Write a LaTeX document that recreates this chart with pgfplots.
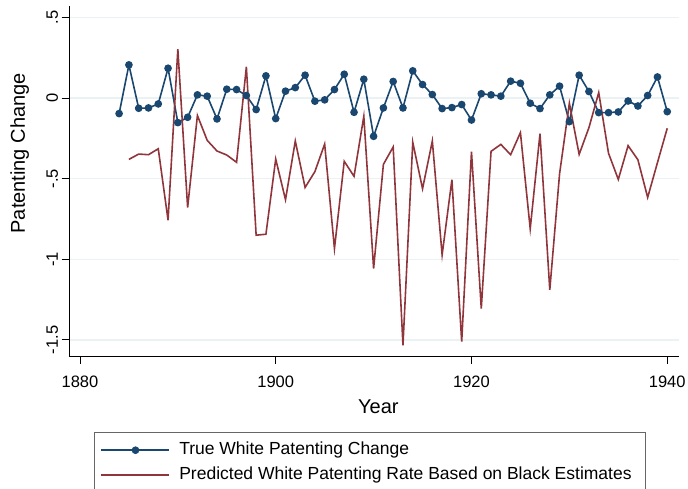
\documentclass[border=0pt]{standalone}
\usepackage{pgfplots}
\pgfplotsset{compat=1.18}
\usepackage{fontspec}
\setmainfont{Liberation Sans}
\definecolor{navyS}{RGB}{26,71,111}
\definecolor{maroonS}{RGB}{144,53,59}
\definecolor{gridS}{RGB}{234,242,243}
\pgfplotstableread{
year val
1884 -0.097
1885 0.205
1886 -0.064
1887 -0.062
1888 -0.037
1889 0.184
1890 -0.153
1891 -0.120
1892 0.019
1893 0.011
1894 -0.130
1895 0.054
1896 0.052
1897 0.015
1898 -0.072
1899 0.137
1900 -0.128
1901 0.042
1902 0.064
1903 0.141
1904 -0.020
1905 -0.012
1906 0.052
1907 0.147
1908 -0.089
1909 0.116
1910 -0.238
1911 -0.062
1912 0.102
1913 -0.062
1914 0.168
1915 0.083
1916 0.021
1917 -0.066
1918 -0.060
1919 -0.041
1920 -0.137
1921 0.026
1922 0.019
1923 0.011
1924 0.104
1925 0.091
1926 -0.033
1927 -0.066
1928 0.019
1929 0.073
1930 -0.147
1931 0.141
1932 0.040
1933 -0.091
1934 -0.091
1935 -0.087
1936 -0.019
1937 -0.050
1938 0.015
1939 0.130
1940 -0.085
}\truewhite
\pgfplotstableread{
year val
1885 -0.381
1886 -0.348
1887 -0.352
1888 -0.315
1889 -0.758
1890 0.302
1891 -0.679
1892 -0.109
1893 -0.263
1894 -0.329
1895 -0.354
1896 -0.399
1897 0.193
1898 -0.851
1899 -0.845
1900 -0.379
1901 -0.631
1902 -0.267
1903 -0.555
1904 -0.457
1905 -0.286
1906 -0.934
1907 -0.393
1908 -0.486
1909 -0.114
1910 -1.058
1911 -0.412
1912 -0.304
1913 -1.534
1914 -0.275
1915 -0.563
1916 -0.267
1917 -0.973
1918 -0.507
1919 -1.511
1920 -0.333
1921 -1.306
1922 -0.331
1923 -0.288
1924 -0.352
1925 -0.215
1926 -0.811
1927 -0.221
1928 -1.190
1929 -0.470
1930 -0.033
1931 -0.350
1932 -0.184
1933 0.033
1934 -0.343
1935 -0.505
1936 -0.296
1937 -0.383
1938 -0.617
1939 -0.401
1940 -0.188
}\predicted
\begin{document}
\begin{tikzpicture}
\useasboundingbox (0,0) rectangle (688pt,488pt);
\begin{axis}[
  at={(69pt,132pt)}, anchor=south west,
  width=609.5pt, height=350pt, scale only axis,
  xmin=1878.88, xmax=1941.15, ymin=-1.6, ymax=0.57,
  axis x line*=bottom, axis y line*=left,
  axis line style={-, black, line width=0.8pt},
  xtick={1880,1900,1920,1940}, xticklabels={1880,1900,1920,1940},
  ytick={-1.5,-1,-0.5,0,0.5}, yticklabels={-1.5,-1,-.5,0,.5},
  tick align=outside, major tick length=7.5pt,
  tick style={black, line width=0.8pt},
  ymajorgrids, grid style={gridS, line width=1.3pt},
  xticklabel style={font=\fontsize{16.5}{18}\selectfont, anchor=north, yshift=-9pt},
  yticklabel style={font=\fontsize{16.5}{18}\selectfont, rotate=90, anchor=south},
  xlabel={Year},
  xlabel style={font=\fontsize{20}{22}\selectfont, at={(axis description cs:0.5075,-0.146)}, anchor=center},
  ylabel={Patenting Change},
  ylabel style={font=\fontsize{20}{22}\selectfont, at={(axis description cs:-0.081,0.579)}, anchor=center},
  legend style={at={(axis description cs:0.0415,-0.218)}, anchor=north west,
    draw=black!60, line width=0.8pt, font=\fontsize{17.5}{20}\selectfont,
    inner xsep=6pt, inner ysep=9pt, column sep=9pt, row sep=8pt,
    nodes={inner sep=0pt, text height=13pt, text depth=4pt}},
  legend cell align=left,
  legend image code/.code={\draw[mark repeat=2,mark phase=2] plot coordinates {(0pt,0pt) (34pt,0pt) (68pt,0pt)};},
]
\addplot[navyS, line width=1.6pt, mark=*, mark size=3pt, mark options={solid, fill=navyS, draw=navyS}] table[x=year, y=val] {\truewhite};
\addlegendentry{True White Patenting Change}
\addplot[maroonS, line width=1.6pt, no marks] table[x=year, y=val] {\predicted};
\addlegendentry{Predicted White Patenting Rate Based on Black Estimates\hspace*{8pt}}
\end{axis}
\end{tikzpicture}
\end{document}
